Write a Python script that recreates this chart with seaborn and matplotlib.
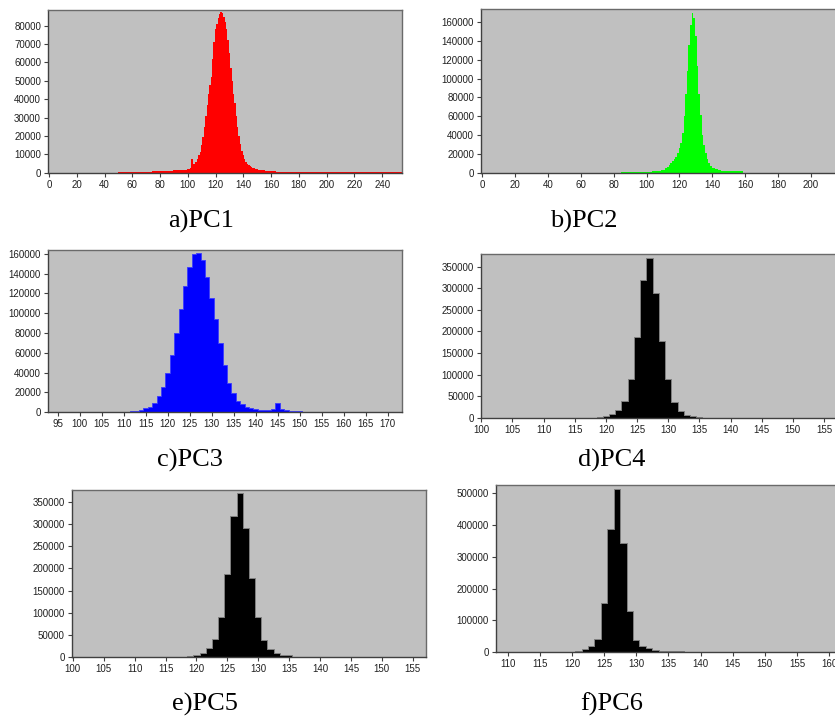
import matplotlib
matplotlib.use("Agg")
import matplotlib.pyplot as plt
import numpy as np
import seaborn as sns

W, H = 835, 717

# PC1: counts per grey level 50..254
pc1_levels = list(range(50, 255))
pc1_counts = (
    [500] * 25  # 50-74, faint tail
    + [1100] * 15  # 75-89
    + [1500] * 10  # 90-99
    + [1800, 2200, 2800, 7200, 4500, 5000, 6000, 7500, 9500, 11500]  # 100-109
    + [15000, 19500, 25000, 31000, 37000, 43000, 48000, 52000, 62000, 71000]  # 110-119
    + [78000, 81000, 84000, 86500, 87500, 87000, 85000, 82000, 78000, 72000]  # 120-129
    + [65000, 57000, 50000, 43000, 38000, 31000, 25000, 20000, 15500, 12000]  # 130-139
    + [9500, 7500, 6000, 5000, 4200, 3600, 3000, 2600, 2300, 2000]  # 140-149
    + [1800, 1500, 1500, 1500, 1500, 1500]  # 150-155
    + [1100] * 5  # 156-160
    + [900] * 3  # 161-163
    + [500] * 91  # 164-254, faint tail
)

# PC2: counts per level 85..158
pc2_levels = list(range(85, 159))
pc2_counts = (
    [1000] * 19  # 85-103
    + [1500] * 5  # 104-108
    + [3000] * 3  # 109-111
    + [5000, 6400, 8000, 9900, 12000, 14200, 17000, 20600]  # 112-119
    + [25900, 32000, 42000, 60000, 84000, 108000, 136000, 157000]  # 120-127
    + [170000, 165000, 145000, 113000, 84000, 61000, 40000, 29000]  # 128-135
    + [20600, 14200, 10000, 7500, 5500, 4500, 4000, 3500]  # 136-143
    + [3000, 2500, 2200, 2000]  # 144-147
    + [1400] * 11  # 148-158
)

# PC3: counts per level 112..150
pc3_levels = list(range(112, 151))
pc3_counts = [
    1000, 1200, 2000, 4000, 5700, 9800, 16800, 26000,  # 112-119
    39400, 58000, 79800, 104000, 127600, 147000, 159600, 161300,  # 120-127
    153900, 137000, 115800, 94000, 69700, 47800, 30000, 19200,  # 128-135
    11400, 8400, 5700, 4000, 3000, 2400, 2000, 2000,  # 136-143
    3500, 9000, 3500, 2000, 1000, 1000, 1000,  # 144-150
]

# PC4: counts per level 119..135
pc4_levels = list(range(119, 136))
pc4_counts = [
    2000, 5000, 8000, 19000, 39000, 89000, 186000, 320000, 370000,
    290000, 177000, 89000, 37000, 16000, 7000, 3000, 2500,
]

# PC5: counts per level 119..135
pc5_levels = list(range(119, 136))
pc5_counts = [
    2200, 4500, 9000, 18900, 40000, 89000, 186800, 320000, 370600,
    291000, 177800, 89000, 38500, 17400, 7500, 3000, 3000,
]

# PC6: counts per level 121..137
pc6_levels = list(range(121, 138))
pc6_counts = [
    4000, 9400, 21000, 42000, 154000, 387000, 513500, 345000, 130000,
    38800, 18900, 12600, 8400, 5000, 4000, 3000, 3000,
]

captions = ["a)PC1", "b)PC2", "c)PC3", "d)PC4", "e)PC5", "f)PC6"]

plt.rcParams["font.family"] = ["Liberation Sans", "DejaVu Sans"]


def px_axes(fig, x0, y0, x1, y1):
    return fig.add_axes([x0 / W, 1 - y1 / H, (x1 - x0) / W, (y1 - y0) / H])


def draw_panel(ax, levels, counts, color, edge, lw, xlim, ylim, xticks, yticks):
    sns.histplot(
        x=levels,
        weights=counts,
        discrete=True,
        element="step",
        fill=True,
        color=color,
        edgecolor=edge,
        linewidth=lw,
        alpha=1,
        ax=ax,
    )
    ax.set_facecolor("#c0c0c0")
    ax.set_xlim(*xlim)
    ax.set_ylim(*ylim)
    ax.set_xticks(xticks)
    ax.set_yticks(yticks)
    ax.set_xticklabels([str(t) for t in xticks])
    ax.set_yticklabels([str(t) for t in yticks])
    ax.set_xlabel("")
    ax.set_ylabel("")
    ax.tick_params(direction="out", length=3, width=0.8, color="#404040",
                   labelsize=7, pad=2, labelcolor="#202020")
    for side in ["top", "right"]:
        ax.spines[side].set_color("#6a6a6a")
        ax.spines[side].set_linewidth(1.0)
    for side in ["left", "bottom"]:
        ax.spines[side].set_color("#404040")
        ax.spines[side].set_linewidth(1.0)


fig = plt.figure(figsize=(W / 100, H / 100), dpi=100)

ax = px_axes(fig, 48, 10, 402, 172.7)
draw_panel(ax, pc1_levels, pc1_counts, "#ff0000", "#ff0000", 0,
           (-0.7, 254.3), (0, 88570), list(range(0, 241, 20)), list(range(0, 80001, 10000)))

ax = px_axes(fig, 481, 9.3, 840, 172.7)
draw_panel(ax, pc2_levels, pc2_counts, "#00ff00", "#00ff00", 0,
           (-0.6, 217.6), (0, 173800), list(range(0, 201, 20)), list(range(0, 160001, 20000)))

ax = px_axes(fig, 48, 250, 402, 412.3)
draw_panel(ax, pc3_levels, pc3_counts, "#0000ff", "#3a3aff", 0.6,
           (92.8, 173.25), (0, 163900), list(range(95, 171, 5)), list(range(0, 160001, 20000)))

ax = px_axes(fig, 481, 254, 838, 417.7)
draw_panel(ax, pc4_levels, pc4_counts, "#000000", "#808080", 0.7,
           (99.95, 157.25), (0, 379400), list(range(100, 156, 5)), list(range(0, 350001, 50000)))

ax = px_axes(fig, 71.7, 490, 426, 656.7)
draw_panel(ax, pc5_levels, pc5_counts, "#000000", "#808080", 0.7,
           (99.82, 157.15), (0, 378000), list(range(100, 156, 5)), list(range(0, 350001, 50000)))

ax = px_axes(fig, 495.7, 485, 840, 652.3)
draw_panel(ax, pc6_levels, pc6_counts, "#000000", "#808080", 0.7,
           (108.13, 161.7), (0, 526000), list(range(110, 161, 5)), list(range(0, 500001, 100000)))

caption_xy = [(201, 221), (584, 221), (190, 460), (612, 460), (205, 704), (612, 704)]
for text, (cx, cy) in zip(captions, caption_xy):
    fig.text(cx / W, 1 - cy / H, text, ha="center", va="center",
             fontsize=19, family=["Liberation Serif", "DejaVu Serif"])

fig.savefig("out.png", dpi=100)
